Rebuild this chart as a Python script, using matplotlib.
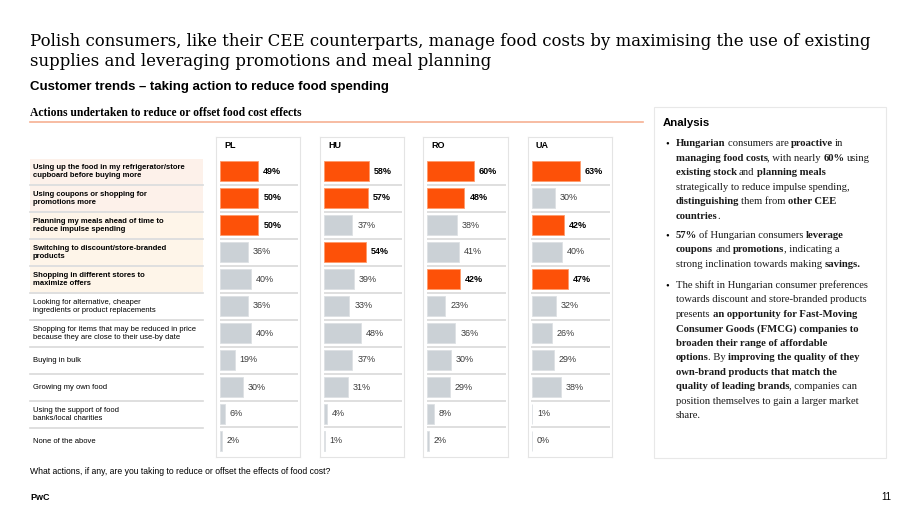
import matplotlib
matplotlib.use('Agg')
import matplotlib.pyplot as plt
from matplotlib.patches import Rectangle
import numpy as np

# ---------------- data ----------------
title_lines = [
    "Polish consumers, like their CEE counterparts, manage food costs by maximising the use of existing",
    "supplies and leveraging promotions and meal planning",
]
subtitle = "Customer trends \u2013 taking action to reduce food spending"
section_title = "Actions undertaken to reduce or offset food cost effects"
actions = [
    "Using up the food in my refrigerator/store\ncupboard before buying more",
    "Using coupons or shopping for\npromotions more",
    "Planning my meals ahead of time to\nreduce impulse spending",
    "Switching to discount/store-branded\nproducts",
    "Shopping in different stores to\nmaximize offers",
    "Looking for alternative, cheaper\ningredients or product replacements",
    "Shopping for items that may be reduced in price\nbecause they are close to their use-by date",
    "Buying in bulk",
    "Growing my own food",
    "Using the support of food\nbanks/local charities",
    "None of the above",
]
n_key_actions = 5
countries = ["PL", "HU", "RO", "UA"]
pl_values = [49, 50, 50, 36, 40, 36, 40, 19, 30, 6, 2]
hu_values = [58, 57, 37, 54, 39, 33, 48, 37, 31, 4, 1]
ro_values = [60, 48, 38, 41, 42, 23, 36, 30, 29, 8, 2]
ua_values = [63, 30, 42, 40, 47, 32, 26, 29, 38, 1, 0]
pl_top = [0, 1, 2]
hu_top = [0, 1, 3]
ro_top = [0, 1, 4]
ua_top = [0, 2, 4]
country_values = [pl_values, hu_values, ro_values, ua_values]
country_top = [pl_top, hu_top, ro_top, ua_top]
question = "What actions, if any, are you taking to reduce or offset the effects of food cost?"
analysis_title = "Analysis"
analysis_bullets = [
    ["**Hungarian** consumers are **proactive** in",
     "**managing food costs**, with nearly **60%** using",
     "**existing stock** and **planning meals**",
     "strategically to reduce impulse spending,",
     "**distinguishing** them from **other CEE**",
     "**countries**."],
    ["**57%** of Hungarian consumers **leverage**",
     "**coupons** and **promotions**, indicating a",
     "strong inclination towards making **savings.**"],
    ["The shift in Hungarian consumer preferences",
     "towards discount and store-branded products",
     "presents **an opportunity for Fast-Moving**",
     "**Consumer Goods (FMCG) companies to**",
     "**broaden their range of affordable**",
     "**options**. By **improving the quality of they**",
     "**own-brand products that match the**",
     "**quality of leading brands**, companies can",
     "position themselves to gain a larger market",
     "share."],
]
footer_left = "PwC"
footer_right = "11"

# ---------------- style ----------------
ORANGE = "#FD5108"
GREY_BAR = "#CBD1D6"
SEP = "#D9D9D9"
SANS = "Liberation Sans"
SERIF_T = "DejaVu Serif"
SERIF = "Liberation Serif"

W, H = 920, 518
fig = plt.figure(figsize=(W / 100, H / 100), dpi=100)
bg = fig.add_axes([0, 0, 1, 1])
bg.set_xlim(0, W)
bg.set_ylim(H, 0)
bg.axis("off")
renderer = fig.canvas.get_renderer()


def text_width(s, size, family, weight="normal"):
    t = bg.text(0, 0, s, fontsize=size, family=family, weight=weight)
    w = t.get_window_extent(renderer).width
    t.remove()
    return w


def fit(s, target, family, weight="normal"):
    return 10 * target / text_width(s, 10, family, weight)


# ---------------- titles ----------------
title_fs = fit(title_lines[0], 841, SERIF_T)
bg.text(30, 42, title_lines[0], fontsize=title_fs, family=SERIF_T, va="center")
bg.text(30, 62, title_lines[1], fontsize=title_fs, family=SERIF_T, va="center")
sub_fs = fit(subtitle, 363, SANS, "bold")
bg.text(30, 87, subtitle, fontsize=sub_fs, family=SANS, weight="bold", va="center")
sec_fs = fit(section_title, 272, SERIF, "bold")
bg.text(30, 113, section_title, fontsize=sec_fs, family=SERIF, weight="bold", va="center")
bg.plot([30, 643], [121.5, 121.5], color="#F6B092", lw=1.2)

# ---------------- label column ----------------
row0, pitch = 171, 27
n = len(actions)
lab_fs_b = fit("Using up the food in my refrigerator/store", 152, SANS, "bold")
lab_fs_r = fit("Shopping for items that may be reduced in price", 164, SANS)
beige = ["#FDF1EA", "#FDF1EA", "#FEF5E9", "#FEF5E9", "#FEF5E9"]
for i, lab in enumerate(actions):
    yc = row0 + pitch * i
    if i < n_key_actions:
        bg.add_patch(Rectangle((30, yc - pitch / 2 + 1), 173, pitch - 2,
                               facecolor=beige[i], edgecolor="none"))
    if i > 0:
        bg.plot([30, 203], [yc - pitch / 2, yc - pitch / 2], color=SEP, lw=1.2)
    key = i < n_key_actions
    bg.text(33, yc + 0.5, lab, fontsize=lab_fs_b if key else lab_fs_r, family=SANS,
            weight="bold" if key else "normal", va="center", linespacing=1.35)

# ---------------- panels ----------------
panel_lefts = [216, 320, 423.5, 527.5]
panel_w = 84.5
panel_top, panel_bot = 137, 457
px_per_pct = 0.77
bar_x0 = 4
for k, c in enumerate(countries):
    L = panel_lefts[k]
    ax = fig.add_axes([L / W, 1 - panel_bot / H, panel_w / W, (panel_bot - panel_top) / H])
    ax.set_xlim(-bar_x0 / px_per_pct, (panel_w - bar_x0) / px_per_pct)
    ax.set_ylim((panel_bot - row0) / pitch, (panel_top - row0) / pitch)
    ax.set_xticks([])
    ax.set_yticks([])
    for s in ax.spines.values():
        s.set_color("#E4E4E4")
        s.set_linewidth(0.8)
    vals = country_values[k]
    tops = country_top[k]
    cols = [ORANGE if i in tops else GREY_BAR for i in range(n)]
    edges = ["#FF9A6A" if i in tops else "#DDE1E4" for i in range(n)]
    ax.barh(np.arange(n), vals, height=0.72, color=cols, edgecolor=edges, linewidth=0.6)
    ax.hlines(np.arange(n - 1) + 0.5, -0.6, (panel_w - 6) / px_per_pct, color=SEP, lw=1.2)
    ax.text((8 - bar_x0) / px_per_pct, (145 - row0) / pitch, c, fontsize=6.5,
            family=SANS, weight="bold", va="center")
    for i, v in enumerate(vals):
        top = i in tops
        ax.text(v + 5 / px_per_pct, i, f"{v}%", fontsize=6.5, family=SANS,
                weight="bold" if top else "normal",
                color="#000000" if top else "#3C3C3C", va="center")

# ---------------- analysis box ----------------
bg.add_patch(Rectangle((654, 107), 232, 351, facecolor="white", edgecolor="#E8E8E8", lw=0.8))
an_fs = fit(analysis_title, 47, SANS, "bold")
bg.text(663, 123, analysis_title, fontsize=an_fs, family=SANS, weight="bold", va="center")
txt_fs = fit("The shift in Hungarian consumer preferences", 191, SERIF)
space_w = {
    w: text_width("a a", txt_fs, SERIF, w) - text_width("aa", txt_fs, SERIF, w)
    for w in ("normal", "bold")
}


def rich_line(x, y, line):
    parts = line.split("**")
    cx = x
    for j, p in enumerate(parts):
        if not p:
            continue
        wt = "bold" if j % 2 == 1 else "normal"
        lead = len(p) - len(p.lstrip(" "))
        trail = len(p) - len(p.rstrip(" "))
        core = p.strip(" ")
        cx += lead * space_w[wt]
        if core:
            t = bg.text(cx, y, core, fontsize=txt_fs, family=SERIF, weight=wt,
                        va="baseline", color="#1A1A1A")
            cx += t.get_window_extent(renderer).width - 0.5
        cx += trail * space_w[wt]


bullet_starts = [146.5, 238, 288]
line_gap = 14.45
for b, lines in enumerate(analysis_bullets):
    y0 = bullet_starts[b]
    bg.text(665, y0, "\u2022", fontsize=txt_fs, family=SERIF, va="baseline")
    for li, line in enumerate(lines):
        rich_line(676, y0 + li * line_gap, line)

# ---------------- footer ----------------
q_fs = fit(question, 300, SANS)
bg.text(30, 471, question, fontsize=q_fs, family=SANS, va="center")
bg.text(30, 497, footer_left, fontsize=6.5, family=SANS, weight="bold", va="center")
bg.text(891, 497, footer_right, fontsize=7, family=SANS, ha="right", va="center")

fig.savefig("out.png", dpi=100)
